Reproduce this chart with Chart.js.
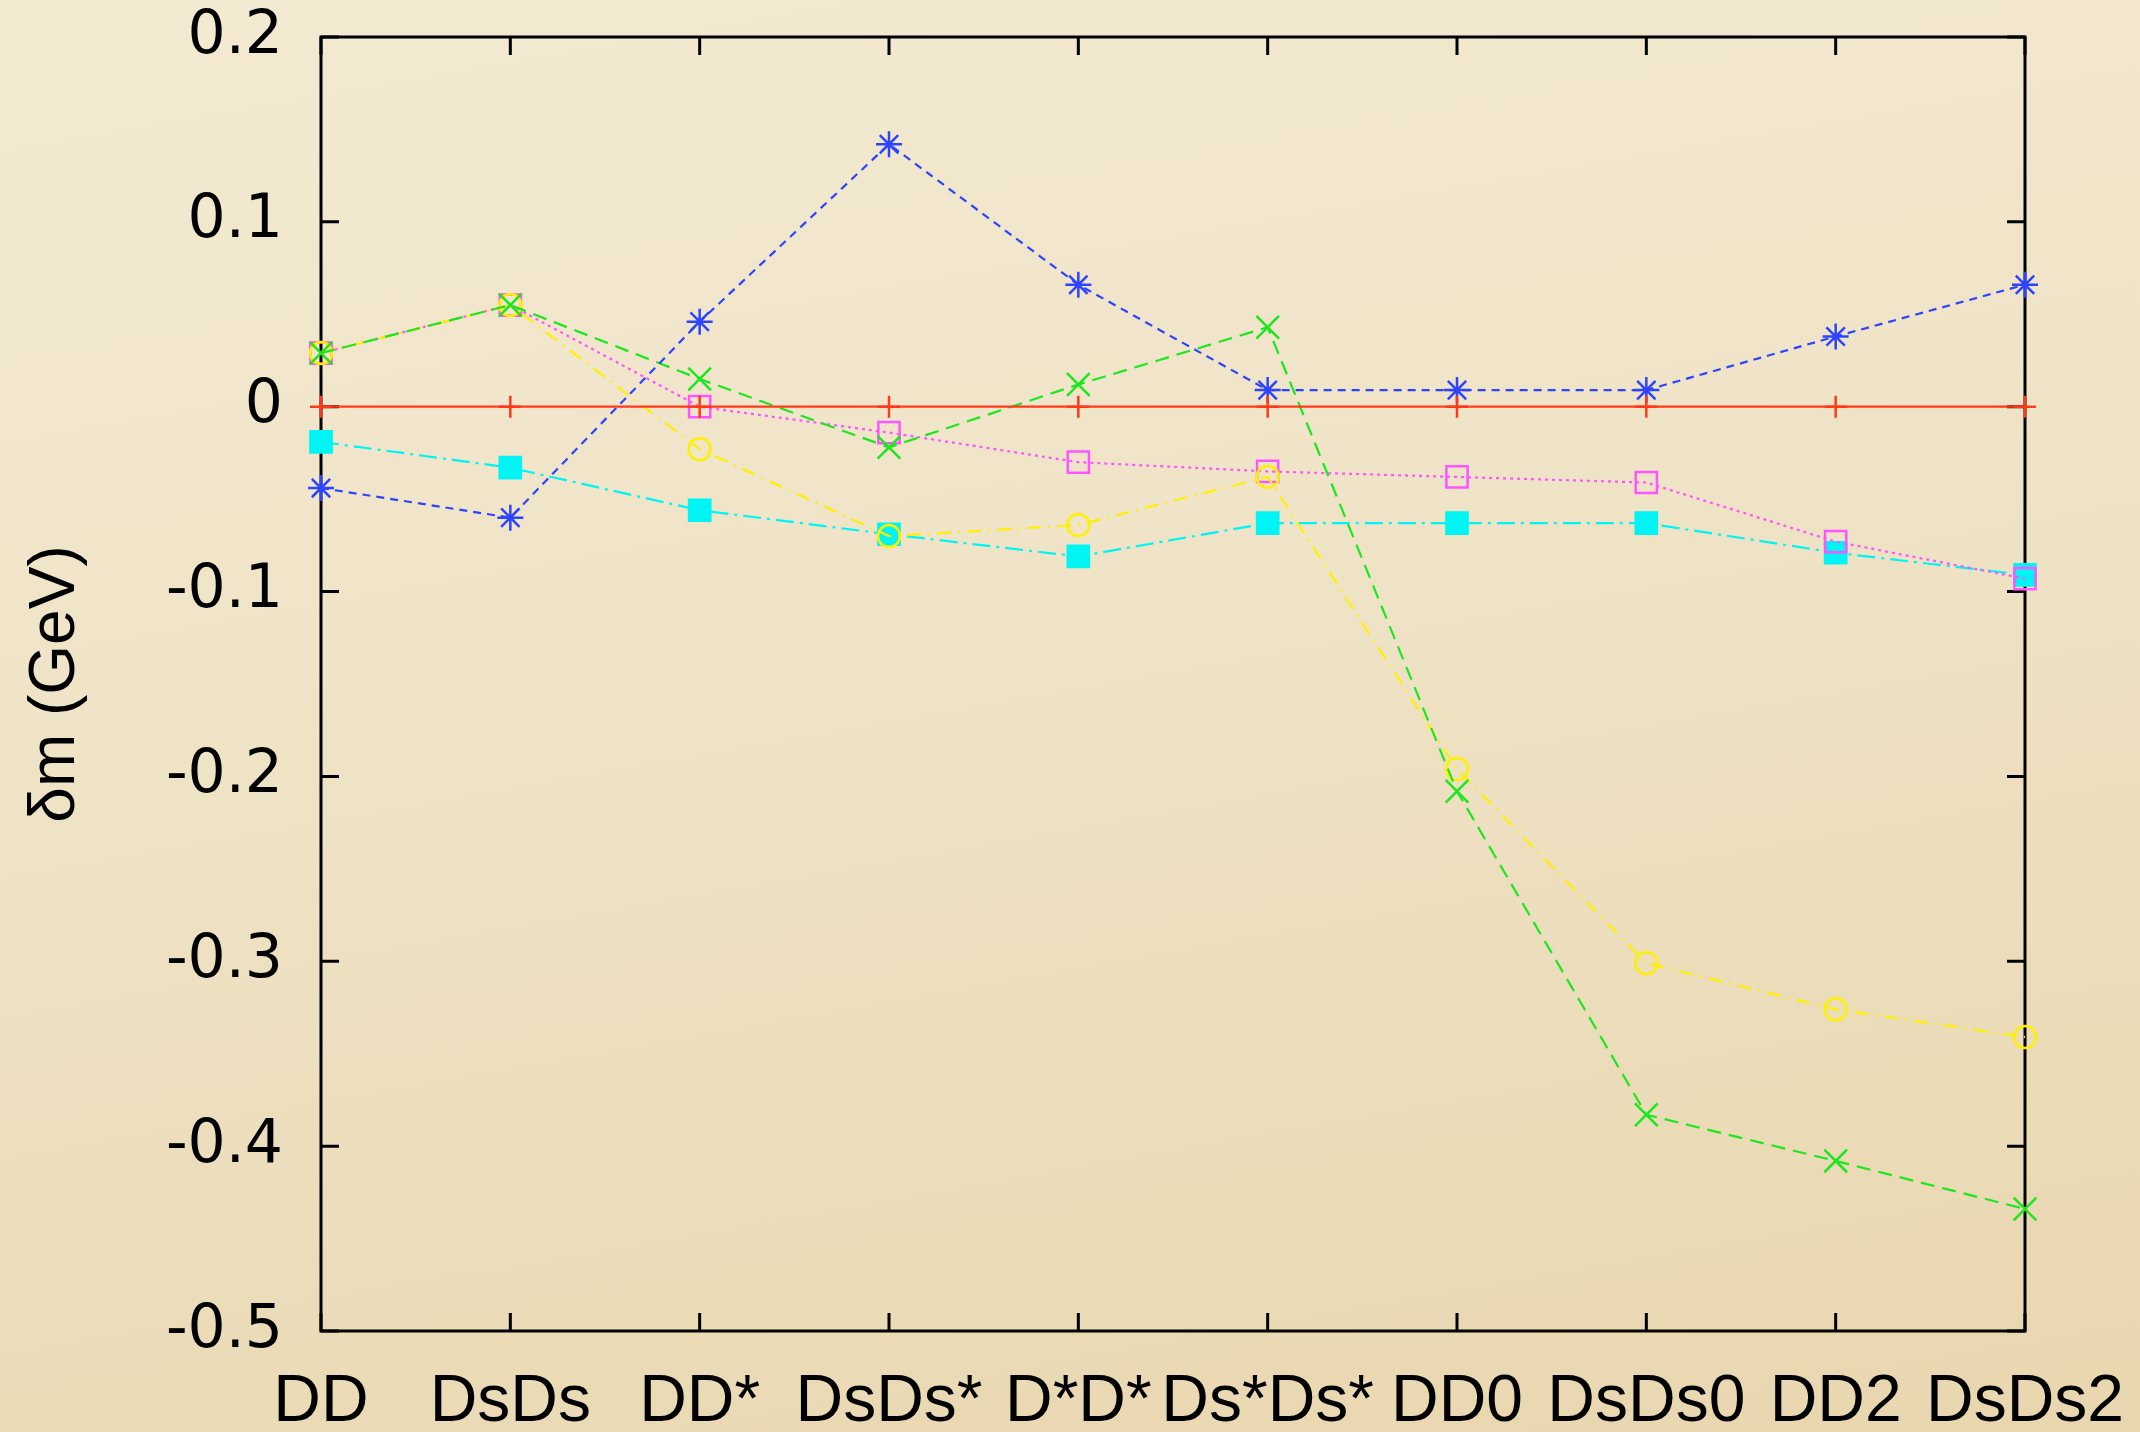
<!DOCTYPE html>
<html>
<head>
<meta charset="utf-8">
<script src="https://cdn.jsdelivr.net/npm/chart.js@4.4.1/dist/chart.umd.min.js"></script>
<style>
  html, body { margin: 0; padding: 0; }
  body {
    width: 2140px; height: 1432px; overflow: hidden;
    background: linear-gradient(170deg, #f3ead2 0%, #efe3c6 45%, #e8d6ae 100%);
  }
  #wrap { position: relative; width: 2140px; height: 1432px; }
</style>
</head>
<body>
<div id="wrap"><canvas id="chart"></canvas></div>
<script>
// channels along the x axis
const channels = ['DD', 'DsDs', 'DD*', 'DsDs*', 'D*D*', 'Ds*Ds*', 'DD0', 'DsDs0', 'DD2', 'DsDs2'];

// delta m in GeV
const zeroLine   = [0, 0, 0, 0, 0, 0, 0, 0, 0, 0];
const starSeries = [-0.044, -0.060, 0.046, 0.142, 0.066, 0.009, 0.009, 0.009, 0.038, 0.066];
const xSeries    = [0.029, 0.055, 0.015, -0.022, 0.012, 0.043, -0.208, -0.383, -0.408, -0.434];
const circSeries = [0.029, 0.055, -0.023, -0.070, -0.064, -0.038, -0.196, -0.301, -0.326, -0.341];
const boxSeries  = [0.029, 0.055, 0.000, -0.014, -0.030, -0.035, -0.038, -0.041, -0.073, -0.093];
const fillSeries = [-0.019, -0.033, -0.056, -0.069, -0.081, -0.063, -0.063, -0.063, -0.079, -0.091];

const yTickLabels = ['-0.5', '-0.4', '-0.3', '-0.2', '-0.1', '0', '0.1', '0.2'];

// frame with inward ticks on all four sides, like gnuplot
const framePlugin = {
  id: 'frame',
  beforeDatasetsDraw(chart) {
    const { ctx, chartArea: a, scales } = chart;
    const tl = 18;
    ctx.save();
    ctx.strokeStyle = '#000';
    ctx.lineWidth = 3;
    ctx.strokeRect(a.left, a.top, a.right - a.left, a.bottom - a.top);
    ctx.beginPath();
    scales.x.ticks.forEach((t, i) => {
      const px = scales.x.getPixelForTick(i);
      ctx.moveTo(px, a.bottom); ctx.lineTo(px, a.bottom - tl);
      ctx.moveTo(px, a.top); ctx.lineTo(px, a.top + tl);
    });
    scales.y.ticks.forEach((t, i) => {
      const py = scales.y.getPixelForTick(i);
      ctx.moveTo(a.left, py); ctx.lineTo(a.left + tl, py);
      ctx.moveTo(a.right, py); ctx.lineTo(a.right - tl, py);
    });
    ctx.stroke();
    ctx.restore();
  }
};

function series(data, color, style, radius, dash, fill) {
  return {
    data,
    borderColor: color,
    backgroundColor: fill ? color : 'rgba(0,0,0,0)',
    pointBorderColor: color,
    pointBackgroundColor: fill ? color : 'rgba(0,0,0,0)',
    pointStyle: style,
    pointRadius: radius,
    pointBorderWidth: 2.5,
    borderWidth: 2.2,
    borderDash: dash,
    tension: 0,
    clip: false,
  };
}

new Chart(document.getElementById('chart'), {
  type: 'line',
  data: {
    labels: channels,
    datasets: [
      series(zeroLine, '#ff3a1a', 'cross', 11, [], false),
      series(starSeries, '#2c44ff', 'star', 13, [8, 6], false),
      series(xSeries, '#1ee61e', 'crossRot', 16, [14, 8], false),
      series(circSeries, '#fff000', 'circle', 11, [14, 7, 2, 7], false),
      series(boxSeries, '#ff55ff', 'rect', 15, [3, 4], false),
      series(fillSeries, '#00f4f4', 'rect', 15, [18, 6, 3, 6], true),
    ],
  },
  options: {
    responsive: true,
    maintainAspectRatio: false,
    animation: false,
    layout: { padding: { left: 0, top: 37, right: 115, bottom: 0 } },
    plugins: {
      legend: { display: false },
      tooltip: { enabled: false },
    },
    scales: {
      x: {
        type: 'category',
        offset: false,
        grid: { display: false },
        border: { display: false },
        ticks: {
          color: '#000',
          padding: 24,
          maxRotation: 0,
          autoSkip: false,
          font: { family: 'Liberation Sans', size: 66 },
        },
        afterFit: (s) => { s.height = 101; s.paddingLeft = 0; s.paddingRight = 0; },
      },
      y: {
        min: -0.5,
        max: 0.2,
        grid: { display: false },
        border: { display: false },
        ticks: {
          stepSize: 0.1,
          color: '#000',
          padding: 30,
          font: { family: 'DejaVu Sans', size: 60 },
          callback: (v) => yTickLabels[Math.round(v * 10) + 5],
        },
        title: {
          display: true,
          text: 'δm (GeV)',
          color: '#000',
          padding: { top: 18, bottom: 0 },
          font: { family: 'Liberation Sans', size: 64 },
        },
        afterFit: (s) => { s.width = 321; s.paddingTop = 0; s.paddingBottom = 0; },
      },
    },
  },
  plugins: [framePlugin],
});
</script>
</body>
</html>
